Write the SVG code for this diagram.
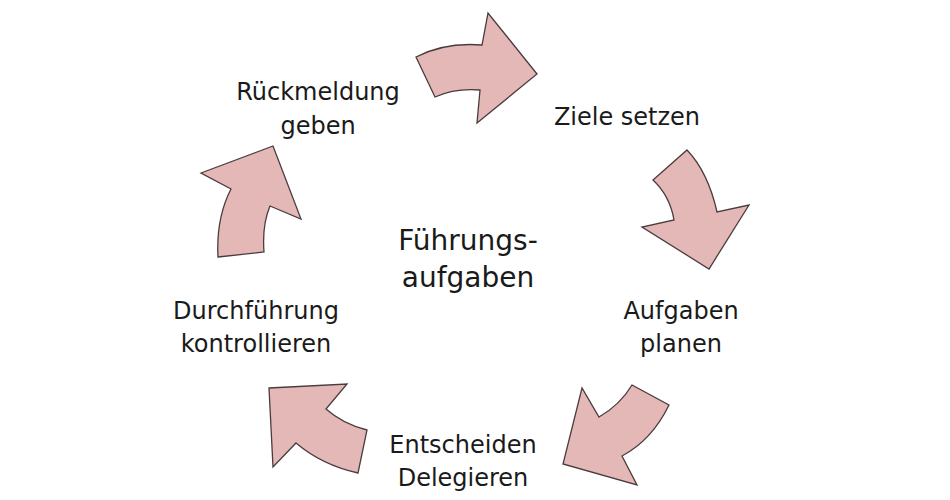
<svg xmlns="http://www.w3.org/2000/svg" width="950" height="500" viewBox="0 0 950 500">
<style>
.a{fill:#e5b8b8;stroke:#4a3c3c;stroke-width:1.3;stroke-linejoin:miter}
text{font-family:"DejaVu Sans",Verdana,sans-serif;font-size:24px;fill:#1a1a1a;text-anchor:middle}
.c{font-size:28px}
</style>
<rect width="950" height="500" fill="#fff"/>
<g id="connectors">
<path id="a1" class="a" d="M416,57 Q445,42 482,45 L488,13 L537,74 L477,123 L480,90 Q455,88 435,97 Z"/>
<path id="a2" class="a" d="M687,150 Q708,172 717,212 L749,205 L709,269 L642,227 L674,220 Q670,196 653,180 Z"/>
<path id="a3" class="a" d="M632,385 L669,405 Q652,440 622,456 L637,485 L563,464 L582,388 L599,417 Q620,405 632,385 Z"/>
<path id="a4" class="a" d="M269,388 L347,384 L326,409 Q343,424 367,430 L358,473 Q322,465 296,443 L273,467 Z"/>
<path id="a5" class="a" d="M218,257 L264,252 Q262,225 270,206 L301,219 L273,146 L201,173 L231,189 Q216,218 218,257 Z"/>
</g>
<g id="center"><text class="c" x="468" y="250">Führungs-</text><text class="c" x="468" y="287">aufgaben</text></g>
<g id="n1"><text x="627" y="125">Ziele setzen</text></g>
<g id="n2"><text x="681" y="319">Aufgaben</text><text x="681" y="352">planen</text></g>
<g id="n3"><text x="463" y="453">Entscheiden</text><text x="463" y="486">Delegieren</text></g>
<g id="n4"><text x="256" y="319">Durchführung</text><text x="256" y="352">kontrollieren</text></g>
<g id="n5"><text x="318" y="100">Rückmeldung</text><text x="318" y="134">geben</text></g>
</svg>
